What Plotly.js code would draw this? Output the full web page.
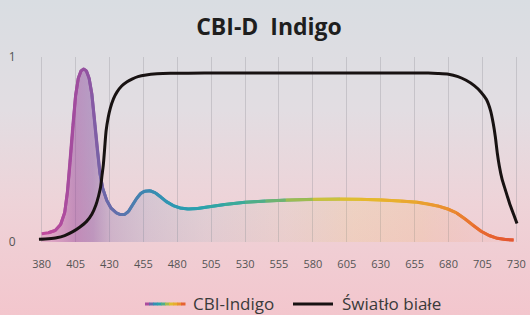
<!DOCTYPE html>
<html>
<head>
<meta charset="utf-8">
<script src="https://cdn.plot.ly/plotly-3.0.1.min.js"></script>
<style>
  html, body { margin: 0; padding: 0; }
  body { width: 530px; height: 315px; overflow: hidden;
    background: linear-gradient(to bottom, #d9dde2 0%, #e2dde2 35%, #eed3d8 65%, #f3c6cd 100%); }
  #chart { width: 530px; height: 315px; }
</style>
</head>
<body>
<div id="chart"></div>
<script>
// ---- data ----
const titleText = "CBI-D\u00A0\u00A0Indigo";
const seriesNames = ["CBI-Indigo", "Światło białe"];
const xTicks = [380, 405, 430, 455, 480, 505, 530, 555, 580, 605, 630, 655, 680, 705, 730];
const yTicks = [0, 1];

const cbiX = [380, 385, 390, 394, 397, 399, 401, 403, 405, 407, 409, 411, 413, 415, 417, 419, 421, 423, 425, 428,
  431, 435, 438, 441, 444, 447, 450, 453, 456, 460, 464, 468, 472, 477, 482, 488, 495, 502, 515, 530,
  545, 560, 580, 600, 615, 630, 645, 657, 665, 672, 680, 686, 692, 698, 704, 710, 716, 722, 728];
const cbiY = [0.045, 0.05, 0.062, 0.095, 0.16, 0.27, 0.43, 0.63, 0.79, 0.885, 0.925, 0.935, 0.925, 0.885, 0.80, 0.66, 0.50, 0.37, 0.29, 0.225,
  0.185, 0.158, 0.148, 0.148, 0.165, 0.20, 0.235, 0.262, 0.275, 0.277, 0.265, 0.243, 0.218, 0.197, 0.184, 0.178, 0.181, 0.189, 0.203, 0.215,
  0.222, 0.227, 0.231, 0.232, 0.231, 0.228, 0.222, 0.215, 0.206, 0.195, 0.177, 0.157, 0.126, 0.09, 0.058, 0.035, 0.02, 0.013, 0.011];

const whiteX = [378, 385, 391, 397, 403, 408, 413, 417, 420, 422, 423.5, 424.5, 425.5, 426.5, 427.5, 429, 430.5, 433, 435.5, 439,
  443, 447, 451, 457, 465, 475, 500, 550, 600, 650, 665, 672, 680, 687, 693, 699, 704, 708, 711, 713,
  714.5, 716, 717.5, 719.5, 722, 725, 728, 730.5];
const whiteY = [0.015, 0.018, 0.023, 0.035, 0.056, 0.08, 0.11, 0.15, 0.2, 0.25, 0.3, 0.36, 0.42, 0.51, 0.6, 0.67, 0.72, 0.775, 0.81, 0.843,
  0.866, 0.882, 0.894, 0.903, 0.909, 0.912, 0.913, 0.913, 0.913, 0.913, 0.913, 0.911, 0.907, 0.894, 0.874, 0.845, 0.81, 0.77, 0.71, 0.64,
  0.57, 0.48, 0.41, 0.34, 0.28, 0.21, 0.15, 0.10];

// ---- styling ----
const lineStops = [
  [380, [196, 75, 157]], [405, [160, 76, 158]], [415, [142, 85, 162]], [425, [111, 102, 168]],
  [440, [90, 116, 173]], [455, [61, 134, 177]], [475, [46, 151, 178]], [495, [42, 161, 173]],
  [520, [56, 169, 157]], [545, [90, 176, 127]], [570, [157, 187, 82]], [595, [216, 194, 54]],
  [620, [230, 184, 45]], [655, [233, 165, 47]], [680, [234, 140, 48]], [700, [232, 110, 48]],
  [730, [227, 82, 50]]
];
function colorAt(w) {
  if (w <= lineStops[0][0]) return lineStops[0][1];
  for (let i = 0; i < lineStops.length - 1; i++) {
    const a = lineStops[i], b = lineStops[i + 1];
    if (w >= a[0] && w <= b[0]) {
      const t = (w - a[0]) / (b[0] - a[0]);
      return a[1].map((v, k) => Math.round(v + (b[1][k] - v) * t));
    }
  }
  return lineStops[lineStops.length - 1][1];
}
const rgb = c => `rgb(${c[0]},${c[1]},${c[2]})`;

const traces = [];
// fill under CBI curve
const xmin = cbiX[0], xmax = cbiX[cbiX.length - 1];
const fr = w => (w - xmin) / (xmax - xmin);
traces.push({
  x: cbiX, y: cbiY, type: 'scatter', mode: 'lines', fill: 'tozeroy',
  line: { width: 0, color: 'rgba(0,0,0,0)' }, hoverinfo: 'skip', showlegend: false,
  fillgradient: {
    type: 'horizontal',
    colorscale: [
      [0, 'rgba(190,80,160,0.25)'], [fr(405), 'rgba(150,70,155,0.5)'], [fr(418), 'rgba(130,80,160,0.45)'],
      [fr(432), 'rgba(110,95,165,0.25)'], [fr(460), 'rgba(80,120,175,0.15)'], [fr(500), 'rgba(60,150,170,0.08)'],
      [fr(560), 'rgba(170,190,110,0.08)'], [fr(610), 'rgba(235,200,80,0.16)'], [fr(660), 'rgba(240,170,70,0.16)'],
      [fr(700), 'rgba(240,120,60,0.08)'], [1, 'rgba(240,100,60,0.03)']
    ]
  }
});
// gradient CBI line as overlapping segments
for (let i = 0; i < cbiX.length - 1; i++) {
  const j = Math.min(i + 2, cbiX.length - 1);
  const xs = cbiX.slice(i, j + 1), ys = cbiY.slice(i, j + 1);
  traces.push({
    x: xs, y: ys, type: 'scatter', mode: 'lines',
    line: { width: 3, color: rgb(colorAt((cbiX[i] + cbiX[i + 1]) / 2)) },
    hoverinfo: 'skip', showlegend: false, name: seriesNames[0]
  });
}
// white light line
traces.push({
  x: whiteX, y: whiteY, type: 'scatter', mode: 'lines', name: seriesNames[1],
  line: { width: 3, color: '#181212', shape: 'spline', smoothing: 0.6 }, showlegend: false
});

// legend (manual) in pixel -> paper conversion
const L = 30, T = 57, B = 73, W = 530, H = 315;
const pw = W - L, ph = H - T - B;
const px = x => (x - L) / pw;
const py = y => (H - B - y) / ph;
const shapes = [];
const legY = 304;
const nSeg = 10;
for (let k = 0; k < nSeg; k++) {
  const x0 = 145 + 40 * k / nSeg, x1 = 145 + 40 * (k + 1) / nSeg;
  const w = 380 + (730 - 380) * (k + 0.5) / nSeg;
  shapes.push({ type: 'line', xref: 'paper', yref: 'paper', x0: px(x0), x1: px(x1 + 0.5), y0: py(legY), y1: py(legY),
    line: { color: rgb(colorAt(w)), width: 3 } });
}
shapes.push({ type: 'line', xref: 'paper', yref: 'paper', x0: px(293), x1: px(333), y0: py(legY), y1: py(legY),
  line: { color: '#181212', width: 3 } });

const annotations = [
  { text: seriesNames[0], xref: 'paper', yref: 'paper', x: px(191), y: py(legY - 1), xanchor: 'left', yanchor: 'middle',
    showarrow: false, font: { family: 'Open Sans, sans-serif', size: 17, color: '#3a3a3a' } },
  { text: seriesNames[1], xref: 'paper', yref: 'paper', x: px(340), y: py(legY - 1), xanchor: 'left', yanchor: 'middle',
    showarrow: false, font: { family: 'Open Sans, sans-serif', size: 17, color: '#3a3a3a' } }
];

const layout = {
  width: W, height: H,
  margin: { l: L, r: 0, t: T, b: B, pad: 0 },
  paper_bgcolor: 'rgba(0,0,0,0)', plot_bgcolor: 'rgba(0,0,0,0)',
  showlegend: false,
  title: { text: '<b>' + titleText + '</b>', x: 269 / W, xref: 'container', y: 1 - 27 / H, yref: 'container',
    xanchor: 'center', yanchor: 'middle', font: { family: 'Open Sans, sans-serif', size: 23, color: '#1e1e1e' } },
  xaxis: {
    range: [371.4, 740.1], tickvals: xTicks, ticktext: xTicks.map(String),
    showgrid: true, gridcolor: 'rgba(150,145,155,0.35)', gridwidth: 1,
    zeroline: false, showline: false,
    ticks: 'outside', ticklen: 12, tickcolor: 'rgba(0,0,0,0)',
    tickfont: { family: 'Open Sans, sans-serif', size: 11, color: '#555' }, fixedrange: true
  },
  yaxis: {
    range: [0, 1], tickvals: yTicks, ticktext: yTicks.map(String),
    showgrid: true, gridcolor: 'rgba(150,145,155,0.4)', gridwidth: 1,
    zeroline: false, showline: false,
    ticks: 'outside', ticklen: 11, tickcolor: 'rgba(0,0,0,0)',
    tickfont: { family: 'Open Sans, sans-serif', size: 12, color: '#555' }, fixedrange: true
  },
  shapes: shapes,
  annotations: annotations
};

Plotly.newPlot('chart', traces, layout, { displayModeBar: false, staticPlot: true });
</script>
</body>
</html>
